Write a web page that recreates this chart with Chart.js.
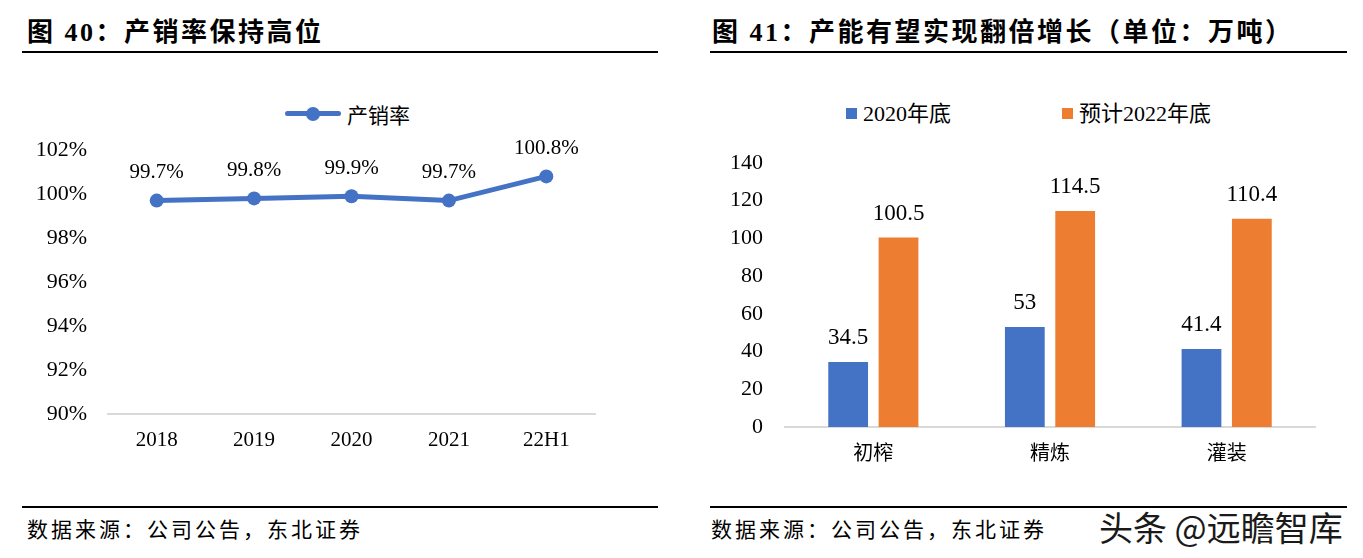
<!DOCTYPE html>
<html>
<head>
<meta charset="utf-8">
<script src="https://cdn.jsdelivr.net/npm/chart.js@4"></script>
<style>
  body { margin: 0; background: #fff; }
  #page { position: relative; width: 1363px; height: 558px; overflow: hidden; font-family: 'Liberation Serif', 'Noto Sans CJK SC', serif; color: #000; }
  .title { position: absolute; top: 15px; font-size: 26px; line-height: 36px; font-weight: bold; letter-spacing: 2.5px; white-space: nowrap; }
  .rule { position: absolute; height: 2px; background: #000; }
  .source { position: absolute; top: 512px; font-size: 21px; line-height: 32px; letter-spacing: 3px; white-space: nowrap; font-family: 'Noto Sans CJK SC', sans-serif; }
  .legend { position: absolute; top: 97px; font-size: 22px; line-height: 30px; white-space: nowrap; }
  .legend span { display: inline-block; vertical-align: middle; }
  canvas { position: absolute; top: 0; }
  #mark { position: absolute; left: 1099px; top: 507px; font-family: 'Noto Sans CJK SC', sans-serif; font-size: 34px; line-height: 40px; color: #1a1a1a; white-space: nowrap;
          text-shadow: -1px -1px 0 #fff, 1px -1px 0 #fff, -1px 1px 0 #fff, 1px 1px 0 #fff, 0 0 3px #fff; }
</style>
</head>
<body>
<div id="page">
  <div class="title" style="left:27px">图 40：产销率保持高位</div>
  <div class="rule" style="left:22px;top:51px;width:636px"></div>
  <div class="title" style="left:712px">图 41：产能有望实现翻倍增长（单位：万吨）</div>
  <div class="rule" style="left:710px;top:51px;width:637px"></div>

  <div class="legend" style="left:285px">
    <span style="position:relative;width:56px;height:14px;">
      <span style="position:absolute;left:0;top:4.5px;width:56px;height:5px;border-radius:3px;background:#4472C4"></span>
      <span style="position:absolute;left:21px;top:0;width:14px;height:14px;border-radius:50%;background:#4472C4"></span>
    </span><span style="margin-left:6px;font-family:'Noto Sans CJK SC',sans-serif;font-size:21px">产销率</span>
  </div>
  <div class="legend" style="left:846px">
    <span style="width:11px;height:11px;background:#4472C4"></span><span style="margin-left:6px">2020年底</span>
  </div>
  <div class="legend" style="left:1062px">
    <span style="width:11px;height:11px;background:#ED7D31"></span><span style="margin-left:6px">预计2022年底</span>
  </div>

  <canvas id="rateChart" style="left:0" width="680" height="500"></canvas>
  <canvas id="capacityChart" style="left:680px" width="683" height="500"></canvas>

  <div class="rule" style="left:22px;top:506px;width:636px"></div>
  <div class="source" style="left:27px">数据来源：公司公告，东北证券</div>
  <div class="rule" style="left:710px;top:506px;width:637px"></div>
  <div class="source" style="left:711px">数据来源：公司公告，东北证券</div>
  <div id="mark">头条 @远瞻智库</div>
</div>

<script>
// 图40 产销率
const years = ['2018', '2019', '2020', '2021', '22H1'];
const sellRate = [99.7, 99.8, 99.9, 99.7, 100.8];

// 图41 产能（万吨）
const stages = ['初榨', '精炼', '灌装'];
const capacity2020 = [34.5, 53, 41.4];
const capacity2022E = [100.5, 114.5, 110.4];

const serif = "'Liberation Serif', 'Noto Sans CJK SC', serif";
const gridGray = '#d9d9d9';

// 数值标签
const valueLabels = {
    id: 'valueLabels',
    afterDatasetsDraw(chart, args, opts) {
        const ctx = chart.ctx;
        ctx.save();
        ctx.font = opts.size + 'px ' + serif;
        ctx.fillStyle = '#000';
        ctx.textAlign = 'center';
        ctx.textBaseline = 'middle';
        chart.data.datasets.forEach((ds, i) => {
            chart.getDatasetMeta(i).data.forEach((el, j) => {
                ctx.fillText(opts.format(ds.data[j]), el.x, el.y - opts.offset);
            });
        });
        ctx.restore();
    }
};

new Chart(document.getElementById('rateChart').getContext('2d'), {
    type: 'line',
    data: {
        labels: years,
        datasets: [{
            label: '产销率',
            data: sellRate,
            borderColor: '#4472C4',
            backgroundColor: '#4472C4',
            borderWidth: 5,
            pointRadius: 7,
            pointHoverRadius: 7,
            pointBackgroundColor: '#4472C4',
            pointBorderWidth: 0,
            tension: 0
        }]
    },
    options: {
        responsive: false,
        animation: false,
        layout: { padding: { top: 150, left: 0, right: 85, bottom: 26 } },
        plugins: {
            legend: { display: false },
            tooltip: { enabled: false },
            valueLabels: { size: 21, offset: 28, format: v => v.toFixed(1) + '%' }
        },
        scales: {
            x: {
                offset: true,
                grid: { display: false, drawTicks: false },
                border: { display: true, color: gridGray, width: 2 },
                ticks: { padding: 14, color: '#000', font: { family: serif, size: 21 } },
                afterFit: s => { s.height = 60; }
            },
            y: {
                min: 90,
                max: 102,
                grid: { display: false, drawTicks: false },
                border: { display: false },
                ticks: { stepSize: 2, padding: 21, color: '#000', font: { family: serif, size: 22 }, callback: v => v + '%' },
                afterFit: s => { s.width = 108; }
            }
        }
    },
    plugins: [valueLabels]
});

new Chart(document.getElementById('capacityChart').getContext('2d'), {
    type: 'bar',
    data: {
        labels: stages,
        datasets: [
            { label: '2020年底', data: capacity2020, backgroundColor: '#4472C4' },
            { label: '预计2022年底', data: capacity2022E, backgroundColor: '#ED7D31' }
        ]
    },
    options: {
        responsive: false,
        animation: false,
        categoryPercentage: 0.57,
        barPercentage: 0.79,
        layout: { padding: { top: 163, left: 0, right: 48, bottom: 13 } },
        plugins: {
            legend: { display: false },
            tooltip: { enabled: false },
            valueLabels: { size: 23, offset: 24, format: v => String(v) }
        },
        scales: {
            x: {
                grid: { display: false, drawTicks: false },
                border: { display: true, color: gridGray, width: 2 },
                ticks: { padding: 13, color: '#000', font: { family: "'Noto Sans CJK SC', sans-serif", size: 20 } },
                afterFit: s => { s.height = 60; }
            },
            y: {
                min: 0,
                max: 140,
                grid: { display: false, drawTicks: false },
                border: { display: false },
                ticks: { stepSize: 20, padding: 22, color: '#000', font: { family: serif, size: 22 } },
                afterFit: s => { s.width = 105; }
            }
        }
    },
    plugins: [valueLabels]
});
</script>
</body>
</html>
